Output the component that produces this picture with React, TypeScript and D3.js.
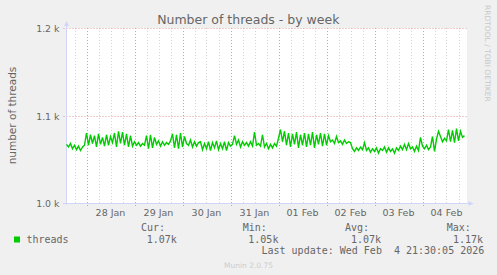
import React from "react";
import * as d3 from "d3";

const title = "Number of threads - by week";
const yLabel = "number of threads";
const seriesName = "threads";
const startTime = new Date(2026, 0, 27, 14, 0, 0);
const endTime = new Date(2026, 1, 4, 22, 0, 0);
const yTicks = [1000, 1100, 1200];
const yTickLabels = ["1.0 k", "1.1 k", "1.2 k"];
const dayTickLabels = ["28 Jan", "29 Jan", "30 Jan", "31 Jan", "01 Feb", "02 Feb", "03 Feb", "04 Feb"];
const legendHeads = ["Cur:", "Min:", "Avg:", "Max:"];
const legendValues = ["1.07k", "1.05k", "1.07k", "1.17k"];
const lastUpdate = "Last update: Wed Feb  4 21:30:05 2026";

// hourly samples (number of threads)
const threads = [
  1067, 1064, 1068, 1062, 1066, 1061, 1065, 1060, 1064, 1066,
  1080, 1066, 1078, 1068, 1077, 1064, 1079, 1067, 1075, 1065, 1078, 1066, 1076, 1069, 1080, 1064, 1082,
  1068, 1081, 1066, 1079, 1064, 1077, 1065, 1070,
  1066, 1069, 1065, 1068, 1066,
  1077, 1062, 1078, 1063, 1075,
  1067, 1071, 1065, 1070, 1066, 1069, 1067, 1071,
  1079, 1063, 1078, 1062, 1080, 1064, 1076,
  1068, 1066, 1072, 1064, 1070, 1065, 1069,
  1070, 1061, 1068, 1062, 1070, 1060, 1069, 1063, 1071, 1061, 1068, 1062, 1070, 1060, 1069, 1065, 1067,
  1077,
  1067, 1072, 1064, 1070, 1066, 1069, 1065,
  1070, 1065, 1081,
  1066, 1068, 1065,
  1078,
  1064, 1068, 1062, 1067, 1063, 1068, 1065,
  1074, 1084, 1070,
  1082, 1066, 1080, 1064, 1079, 1067, 1081, 1063, 1078, 1066, 1080, 1064, 1079, 1066, 1081, 1063, 1078, 1067, 1080, 1065, 1079, 1066, 1077,
  1070, 1072, 1068, 1076, 1069, 1071, 1067, 1072, 1068, 1070, 1069,
  1062, 1059, 1063, 1060, 1064, 1061, 1069, 1060, 1063, 1058, 1062, 1059, 1063, 1057, 1062, 1060, 1064, 1058, 1063, 1059, 1062, 1057, 1063, 1060, 1065, 1061,
  1067, 1061, 1068, 1062,
  1064, 1059, 1065, 1060,
  1075,
  1065, 1062, 1066, 1061, 1064,
  1076, 1059, 1073,
  1082,
  1076, 1070, 1074, 1071,
  1084, 1070, 1083, 1069, 1085, 1071, 1082,
  1075, 1077,
];

export default function App() {
  const W = 497, H = 275;
  const left = 66.5, right = 466.5, top = 28, bottom = 203;
  const x = d3.scaleTime().domain([startTime, endTime]).range([left, right]);
  const y = d3.scaleLinear().domain([1000, 1200]).range([bottom, top]);
  const hour = 3600 * 1000;
  const pts = threads.map((v, i) => ({ t: new Date(startTime.getTime() + i * hour), v }));
  const line = d3.line<{ t: Date; v: number }>().x((d) => x(d.t)).y((d) => y(d.v));

  const minor = d3.timeHour.every(6)!.range(startTime, endTime).filter((d) => d.getHours() !== 0);
  const major = d3.timeDay.range(startTime, endTime);
  const font = "DejaVu Sans, sans-serif";
  const mono = "DejaVu Sans Mono, monospace";
  const fc = "#666666";
  const axisC = "#CFD6F8";
  const colX = [141, 242.7, 345, 446.7];
  const valX = [146.7, 248.3, 351, 453];

  return (
    <svg width={W} height={H} style={{ position: "absolute", left: 0, top: 0 }}>
      <rect x={0} y={0} width={W} height={H} fill="#F0F0F0" />
      <rect x={left} y={top} width={right - left + 0.5} height={bottom - top} fill="#FFFFFF" />
      {minor.map((d, i) => (
        <line key={"mi" + i} x1={Math.round(x(d)) + 0.5} x2={Math.round(x(d)) + 0.5} y1={top} y2={bottom + 2}
          stroke="#D4D4D4" strokeDasharray="1,2" />
      ))}
      {major.map((d, i) => (
        <line key={"ma" + i} x1={Math.round(x(d)) + 0.5} x2={Math.round(x(d)) + 0.5} y1={top} y2={bottom + 3}
          stroke="#E49A9A" strokeDasharray="1,2" />
      ))}
      {yTicks.map((t, i) => (
        <line key={"yg" + i} x1={left - 3} x2={right} y1={Math.round(y(t)) + 0.5} y2={Math.round(y(t)) + 0.5}
          stroke="#E49A9A" strokeDasharray="1,2" />
      ))}
      {/* axes */}
      <line x1={left} x2={left} y1={bottom + 2} y2={top - 3} stroke={axisC} />
      <line x1={left - 2} x2={right + 3} y1={bottom + 0.5} y2={bottom + 0.5} stroke={axisC} />
      <path d={`M${left - 2.5},${top - 2} L${left + 2.5},${top - 2} L${left},${top - 7} Z`} fill={axisC} />
      <path d={`M${right + 2},${bottom - 2} L${right + 2},${bottom + 3} L${right + 7},${bottom + 0.5} Z`} fill={axisC} />
      <path d={line(pts) || ""} fill="none" stroke="#00CC00" strokeWidth={1.4} strokeLinejoin="miter" />
      {yTicks.map((t, i) => (
        <text key={"yl" + i} x={59.5} y={y(t) + 4} textAnchor="end" fontFamily={font} fontSize={9.4} fill={fc}>
          {yTickLabels[i]}
        </text>
      ))}
      {major.map((d, i) => (
        <text key={"xl" + i} x={x(d3.timeHour.offset(d, 12))} y={216} textAnchor="middle" fontFamily={font}
          fontSize={9.5} fill={fc}>
          {dayTickLabels[i]}
        </text>
      ))}
      <text x={248.3} y={23.5} textAnchor="middle" fontFamily={font} fontSize={12.5} fill={fc}>{title}</text>
      <text transform={`translate(15.5,${(top + bottom) / 2}) rotate(-90)`} textAnchor="middle" fontFamily={font}
        fontSize={10.5} fill={fc}>{yLabel}</text>
      <text transform="translate(485,5) rotate(90)" textAnchor="start" fontFamily={font} fontSize={7.5}
        fill="#C8C8C8">RRDTOOL / TOBI OETIKER</text>
      {legendHeads.map((h, i) => (
        <text key={"lh" + i} x={colX[i]} y={230.5} fontFamily={mono} fontSize={10} fill={fc}>{h}</text>
      ))}
      <rect x={14} y={236.5} width={6} height={6} fill="#00CC00" />
      <text x={26.5} y={242.5} fontFamily={mono} fontSize={10} fill={fc}>{seriesName}</text>
      {legendValues.map((v, i) => (
        <text key={"lv" + i} x={valX[i]} y={242.5} fontFamily={mono} fontSize={10} fill={fc}>{v}</text>
      ))}
      <text x={261.5} y={254.3} fontFamily={mono} fontSize={10} fill={fc} style={{ whiteSpace: "pre" }}>{lastUpdate}</text>
      <text x={248.5} y={268} textAnchor="middle" fontFamily={font} fontSize={7.5} fill="#CCCCCC">Munin 2.0.75</text>
    </svg>
  );
}
